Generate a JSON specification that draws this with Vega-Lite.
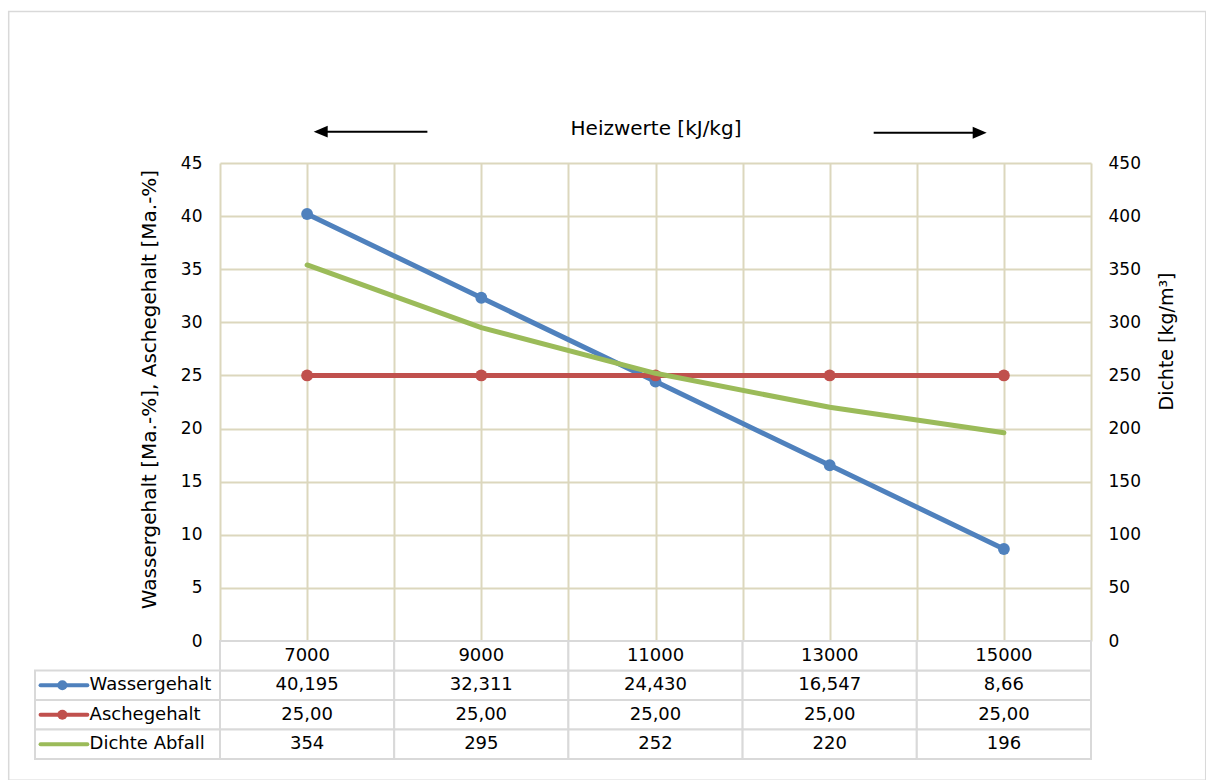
{
  "$schema": "https://vega.github.io/schema/vega-lite/v6.json",
  "background": "white",
  "padding": {"left": 7, "top": 10, "right": 0, "bottom": 0},
  "config": {
    "font": "DejaVu Sans",
    "view": {"stroke": null},
    "axis": {"labelFont": "DejaVu Sans", "titleFont": "DejaVu Sans", "labelColor": "#000000", "titleColor": "#000000", "titleFontWeight": "normal"},
    "text": {"font": "DejaVu Sans", "color": "#000000"}
  },
  "datasets": {
    "werte": [
      {"reihe": "Wassergehalt", "heizwert": 7000, "wert": 40.195, "anzeige": "40,195"},
      {"reihe": "Wassergehalt", "heizwert": 9000, "wert": 32.311, "anzeige": "32,311"},
      {"reihe": "Wassergehalt", "heizwert": 11000, "wert": 24.43, "anzeige": "24,430"},
      {"reihe": "Wassergehalt", "heizwert": 13000, "wert": 16.547, "anzeige": "16,547"},
      {"reihe": "Wassergehalt", "heizwert": 15000, "wert": 8.66, "anzeige": "8,66"},
      {"reihe": "Aschegehalt", "heizwert": 7000, "wert": 25, "anzeige": "25,00"},
      {"reihe": "Aschegehalt", "heizwert": 9000, "wert": 25, "anzeige": "25,00"},
      {"reihe": "Aschegehalt", "heizwert": 11000, "wert": 25, "anzeige": "25,00"},
      {"reihe": "Aschegehalt", "heizwert": 13000, "wert": 25, "anzeige": "25,00"},
      {"reihe": "Aschegehalt", "heizwert": 15000, "wert": 25, "anzeige": "25,00"},
      {"reihe": "Dichte Abfall", "heizwert": 7000, "wert": 354, "anzeige": "354"},
      {"reihe": "Dichte Abfall", "heizwert": 9000, "wert": 295, "anzeige": "295"},
      {"reihe": "Dichte Abfall", "heizwert": 11000, "wert": 252, "anzeige": "252"},
      {"reihe": "Dichte Abfall", "heizwert": 13000, "wert": 220, "anzeige": "220"},
      {"reihe": "Dichte Abfall", "heizwert": 15000, "wert": 196, "anzeige": "196"}
    ]
  },
  "bounds": "flush",
  "spacing": 0,
  "vconcat": [
    {
      "width": 871,
      "height": 478,
      "data": {"name": "werte"},
      "layer": [
        {
          "layer": [
            {
              "data": {"values": [{}]},
              "mark": {"type": "rect", "filled": false, "stroke": "#d9d9d9", "strokeWidth": 1.5},
              "encoding": {
                "x": {"datum": 3574, "type": "quantitative", "scale": {"domain": [6000, 16000], "nice": false, "zero": false}},
                "x2": {"datum": 17317},
                "y": {"datum": 59.27, "type": "quantitative", "scale": {"domain": [0, 45], "nice": false}},
                "y2": {"datum": -13.1}
              }
            },
            {
              "data": {"values": [{}]},
              "mark": {"type": "rule", "color": "#000000", "strokeWidth": 2},
              "encoding": {
                "x": {"datum": 7156, "type": "quantitative"},
                "x2": {"datum": 8381},
                "y": {"datum": 47.95, "type": "quantitative"}
              }
            },
            {
              "data": {"values": [{}]},
              "mark": {"type": "point", "filled": true, "color": "#000000", "opacity": 1, "size": 196, "shape": "M-1,0L1,-0.85L1,0.85Z"},
              "encoding": {
                "x": {"datum": 7156, "type": "quantitative"},
                "y": {"datum": 47.95, "type": "quantitative"}
              }
            },
            {
              "data": {"values": [{}]},
              "mark": {"type": "rule", "color": "#000000", "strokeWidth": 2},
              "encoding": {
                "x": {"datum": 13505, "type": "quantitative"},
                "x2": {"datum": 14722},
                "y": {"datum": 47.85, "type": "quantitative"}
              }
            },
            {
              "data": {"values": [{}]},
              "mark": {"type": "point", "filled": true, "color": "#000000", "opacity": 1, "size": 196, "shape": "M1,0L-1,-0.85L-1,0.85Z"},
              "encoding": {
                "x": {"datum": 14722, "type": "quantitative"},
                "y": {"datum": 47.85, "type": "quantitative"}
              }
            },
            {
              "transform": [{"filter": "datum.reihe == 'Wassergehalt'"}],
              "mark": {"type": "line", "strokeWidth": 5, "strokeJoin": "round", "strokeCap": "round"},
              "encoding": {
                "x": {
                  "field": "heizwert", "type": "quantitative",
                  "scale": {"domain": [6000, 16000], "nice": false, "zero": false},
                  "axis": {
                    "orient": "top", "values": [6000, 7000, 8000, 9000, 10000, 11000, 12000, 13000, 14000, 15000, 16000],
                    "grid": true, "gridColor": "#dcd7bd", "gridWidth": 2, "labels": false, "ticks": false, "domain": false,
                    "title": "Heizwerte [kJ/kg]", "titleFontSize": 20, "titlePadding": 25
                  }
                },
                "y": {
                  "field": "wert", "type": "quantitative",
                  "scale": {"domain": [0, 45], "nice": false},
                  "axis": {
                    "orient": "left", "values": [0, 5, 10, 15, 20, 25, 30, 35, 40, 45],
                    "grid": true, "gridColor": "#dcd7bd", "gridWidth": 2, "ticks": false, "domain": false,
                    "labelFontSize": 17, "labelPadding": 18,
                    "title": "Wassergehalt [Ma.-%], Aschegehalt [Ma.-%]", "titleFontSize": 20, "titlePadding": 21, "titleY": 226
                  }
                },
                "color": {"field": "reihe", "type": "nominal", "scale": {"domain": ["Wassergehalt", "Aschegehalt", "Dichte Abfall"], "range": ["#4f81bd", "#c0504d", "#9bbb59"]}, "legend": null}
              }
            },
            {
              "transform": [{"filter": "datum.reihe == 'Wassergehalt'"}],
              "mark": {"type": "point", "filled": true, "opacity": 1, "size": 140},
              "encoding": {
                "x": {"field": "heizwert", "type": "quantitative"},
                "y": {"field": "wert", "type": "quantitative"},
                "color": {"field": "reihe", "type": "nominal", "scale": {"domain": ["Wassergehalt", "Aschegehalt", "Dichte Abfall"], "range": ["#4f81bd", "#c0504d", "#9bbb59"]}, "legend": null}
              }
            },
            {
              "transform": [{"filter": "datum.reihe == 'Aschegehalt'"}],
              "mark": {"type": "line", "strokeWidth": 5, "strokeJoin": "round", "strokeCap": "round"},
              "encoding": {
                "x": {"field": "heizwert", "type": "quantitative"},
                "y": {"field": "wert", "type": "quantitative"},
                "color": {"field": "reihe", "type": "nominal", "scale": {"domain": ["Wassergehalt", "Aschegehalt", "Dichte Abfall"], "range": ["#4f81bd", "#c0504d", "#9bbb59"]}, "legend": null}
              }
            },
            {
              "transform": [{"filter": "datum.reihe == 'Aschegehalt'"}],
              "mark": {"type": "point", "filled": true, "opacity": 1, "size": 140},
              "encoding": {
                "x": {"field": "heizwert", "type": "quantitative"},
                "y": {"field": "wert", "type": "quantitative"},
                "color": {"field": "reihe", "type": "nominal", "scale": {"domain": ["Wassergehalt", "Aschegehalt", "Dichte Abfall"], "range": ["#4f81bd", "#c0504d", "#9bbb59"]}, "legend": null}
              }
            }
          ]
        },
        {
          "layer": [
            {
              "transform": [{"filter": "datum.reihe == 'Dichte Abfall'"}],
              "mark": {"type": "line", "strokeWidth": 5, "strokeJoin": "round", "strokeCap": "round"},
              "encoding": {
                "x": {"field": "heizwert", "type": "quantitative"},
                "y": {
                  "field": "wert", "type": "quantitative",
                  "scale": {"domain": [0, 450], "nice": false},
                  "axis": {
                    "orient": "right", "values": [0, 50, 100, 150, 200, 250, 300, 350, 400, 450],
                    "grid": false, "ticks": false, "domain": false,
                    "labelFontSize": 17, "labelPadding": 17,
                    "title": "Dichte [kg/m³]", "titleFontSize": 19, "titlePadding": 17, "titleY": 178,
                    "titleAngle": 270, "titleBaseline": "top"
                  }
                },
                "color": {"field": "reihe", "type": "nominal", "scale": {"domain": ["Wassergehalt", "Aschegehalt", "Dichte Abfall"], "range": ["#4f81bd", "#c0504d", "#9bbb59"]}, "legend": null}
              }
            }
          ]
        }
      ],
      "resolve": {"scale": {"y": "independent"}}
    },
    {
      "width": 871,
      "height": 118,
      "data": {"name": "werte"},
      "encoding": {
        "y": {"field": "reihe", "type": "nominal", "scale": {"domain": ["Heizwert", "Wassergehalt", "Aschegehalt", "Dichte Abfall"], "paddingInner": 0, "paddingOuter": 0}, "axis": null}
      },
      "layer": [
        {
          "mark": {"type": "rect", "fill": "white", "stroke": "#d9d9d9", "strokeWidth": 2},
          "encoding": {
            "x": {"field": "heizwert", "type": "ordinal", "scale": {"domain": [7000, 9000, 11000, 13000, 15000], "paddingInner": 0, "paddingOuter": 0}, "axis": null}
          }
        },
        {
          "transform": [{"filter": "datum.reihe == 'Wassergehalt'"}],
          "mark": {"type": "rect", "fill": "white", "stroke": "#d9d9d9", "strokeWidth": 2},
          "encoding": {
            "x": {"field": "heizwert", "type": "ordinal", "scale": {"domain": [7000, 9000, 11000, 13000, 15000], "paddingInner": 0, "paddingOuter": 0}, "axis": null},
            "y": {"datum": "Heizwert", "type": "nominal"}
          }
        },
        {
          "transform": [{"filter": "datum.heizwert == 7000"}],
          "mark": {"type": "rect", "fill": "white", "stroke": "#d9d9d9", "strokeWidth": 2},
          "encoding": {
            "x": {"datum": 3876, "type": "quantitative", "scale": {"domain": [6000, 16000], "nice": false, "zero": false}, "axis": null},
            "x2": {"datum": 6000}
          }
        },
        {
          "mark": {"type": "text", "fontSize": 18, "baseline": "middle", "align": "center"},
          "encoding": {
            "x": {"field": "heizwert", "type": "ordinal", "scale": {"domain": [7000, 9000, 11000, 13000, 15000], "paddingInner": 0, "paddingOuter": 0}, "axis": null},
            "text": {"field": "anzeige", "type": "nominal"}
          }
        },
        {
          "transform": [{"filter": "datum.reihe == 'Wassergehalt'"}],
          "mark": {"type": "text", "fontSize": 18, "baseline": "middle", "align": "center"},
          "encoding": {
            "x": {"field": "heizwert", "type": "ordinal", "scale": {"domain": [7000, 9000, 11000, 13000, 15000], "paddingInner": 0, "paddingOuter": 0}, "axis": null},
            "y": {"datum": "Heizwert", "type": "nominal"},
            "text": {"field": "heizwert", "type": "quantitative", "format": "d"}
          }
        },
        {
          "transform": [{"filter": "datum.heizwert == 7000"}],
          "mark": {"type": "text", "fontSize": 18, "baseline": "middle", "align": "left"},
          "encoding": {
            "x": {"datum": 4503, "type": "quantitative", "scale": {"domain": [6000, 16000], "nice": false, "zero": false}, "axis": null},
            "text": {"field": "reihe", "type": "nominal"}
          }
        },
        {
          "transform": [{"filter": "datum.heizwert == 7000"}],
          "mark": {"type": "rule", "strokeWidth": 4, "strokeCap": "round"},
          "encoding": {
            "x": {"datum": 3940, "type": "quantitative", "scale": {"domain": [6000, 16000], "nice": false, "zero": false}, "axis": null},
            "x2": {"datum": 4477},
            "color": {"field": "reihe", "type": "nominal", "scale": {"domain": ["Wassergehalt", "Aschegehalt", "Dichte Abfall"], "range": ["#4f81bd", "#c0504d", "#9bbb59"]}, "legend": null}
          }
        },
        {
          "transform": [{"filter": "datum.heizwert == 7000 && datum.reihe != 'Dichte Abfall'"}],
          "mark": {"type": "point", "filled": true, "opacity": 1, "size": 100},
          "encoding": {
            "x": {"datum": 4190, "type": "quantitative", "scale": {"domain": [6000, 16000], "nice": false, "zero": false}, "axis": null},
            "color": {"field": "reihe", "type": "nominal", "scale": {"domain": ["Wassergehalt", "Aschegehalt", "Dichte Abfall"], "range": ["#4f81bd", "#c0504d", "#9bbb59"]}, "legend": null}
          }
        }
      ],
      "resolve": {"scale": {"x": "independent"}}
    }
  ]
}
